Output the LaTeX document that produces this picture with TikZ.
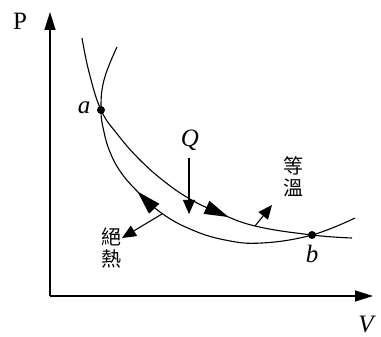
\documentclass[tikz,border=0pt]{standalone}
\usepackage{fontspec}
\setmainfont{Liberation Serif}
\newfontfamily\cjk{Noto Sans CJK TC}
\usetikzlibrary{arrows.meta,decorations.markings}
\begin{document}
\begin{tikzpicture}[x=1pt,y=-1pt,
  axis/.style={line width=1.3pt,-{Triangle[length=18pt,width=11pt]}},
  curve/.style={line width=1.1pt},
  lbl/.style={font=\fontsize{25}{27}\selectfont\itshape, inner sep=0pt},
  uplbl/.style={font=\fontsize{25}{27}\selectfont, inner sep=0pt},
  cjklbl/.style={font=\cjk\fontsize{20}{22}\selectfont, align=center, inner sep=0pt},
  ptr/.style={line width=1.1pt,-{Triangle[length=14pt,width=12pt]}},
  bigtip/.style={decoration={markings, mark=at position #1 with {\arrow{Triangle[length=24pt,width=14pt]}}}, postaction={decorate}},
  bigtiprev/.style={decoration={markings, mark=at position #1 with {\arrowreversed{Triangle[length=24pt,width=14pt]}}}, postaction={decorate}}]
\useasboundingbox (0,0) rectangle (381,337);
\coordinate (O) at (50,296);
\coordinate (ytip) at (50,12);
\coordinate (xtip) at (373,296);
\draw[axis] (O) -- (ytip);
\draw[axis] (O) -- (xtip);
\node[uplbl] (P) at (20,21) {P};
\node[lbl] (V) at (366,325) {V};
\coordinate (a) at (101,110);
\coordinate (b) at (312,235);
% isotherm
\draw[curve, bigtip=0.66] plot[smooth, tension=0.7] coordinates {(82,38) (89,72) (a) (118,135) (140,160) (165,182) (190,199) (217,212) (255,226) (b) (352,238)};
% adiabat
\draw[curve, bigtiprev=0.40] plot[smooth, tension=0.7] coordinates {(117,47) (104,80) (a) (104,132) (110,152) (120,171) (136,190) (160,212) (190,229) (225,240) (262,243) (b) (355,218)};
\fill (a) circle (4pt);
\fill (b) circle (4pt);
\node[lbl] (alabel) at (84,108) {a};
\node[lbl] (blabel) at (312,254) {b};
% Q
\node[lbl] (Q) at (190,140) {Q};
\coordinate (Qs) at (189,158);
\coordinate (Qt) at (189,214);
\draw[ptr] (Qs) -- (Qt);
% labels
\node[cjklbl] (adi) at (111,248) {絕\\熱};
\coordinate (adis) at (162,214);
\coordinate (adit) at (122,238);
\draw[ptr] (adis) -- (adit);
\node[cjklbl] (iso) at (293,177) {等\\溫};
\coordinate (isos) at (255,226);
\coordinate (isot) at (272,205);
\draw[ptr] (isos) -- (isot);
\end{tikzpicture}
\end{document}
